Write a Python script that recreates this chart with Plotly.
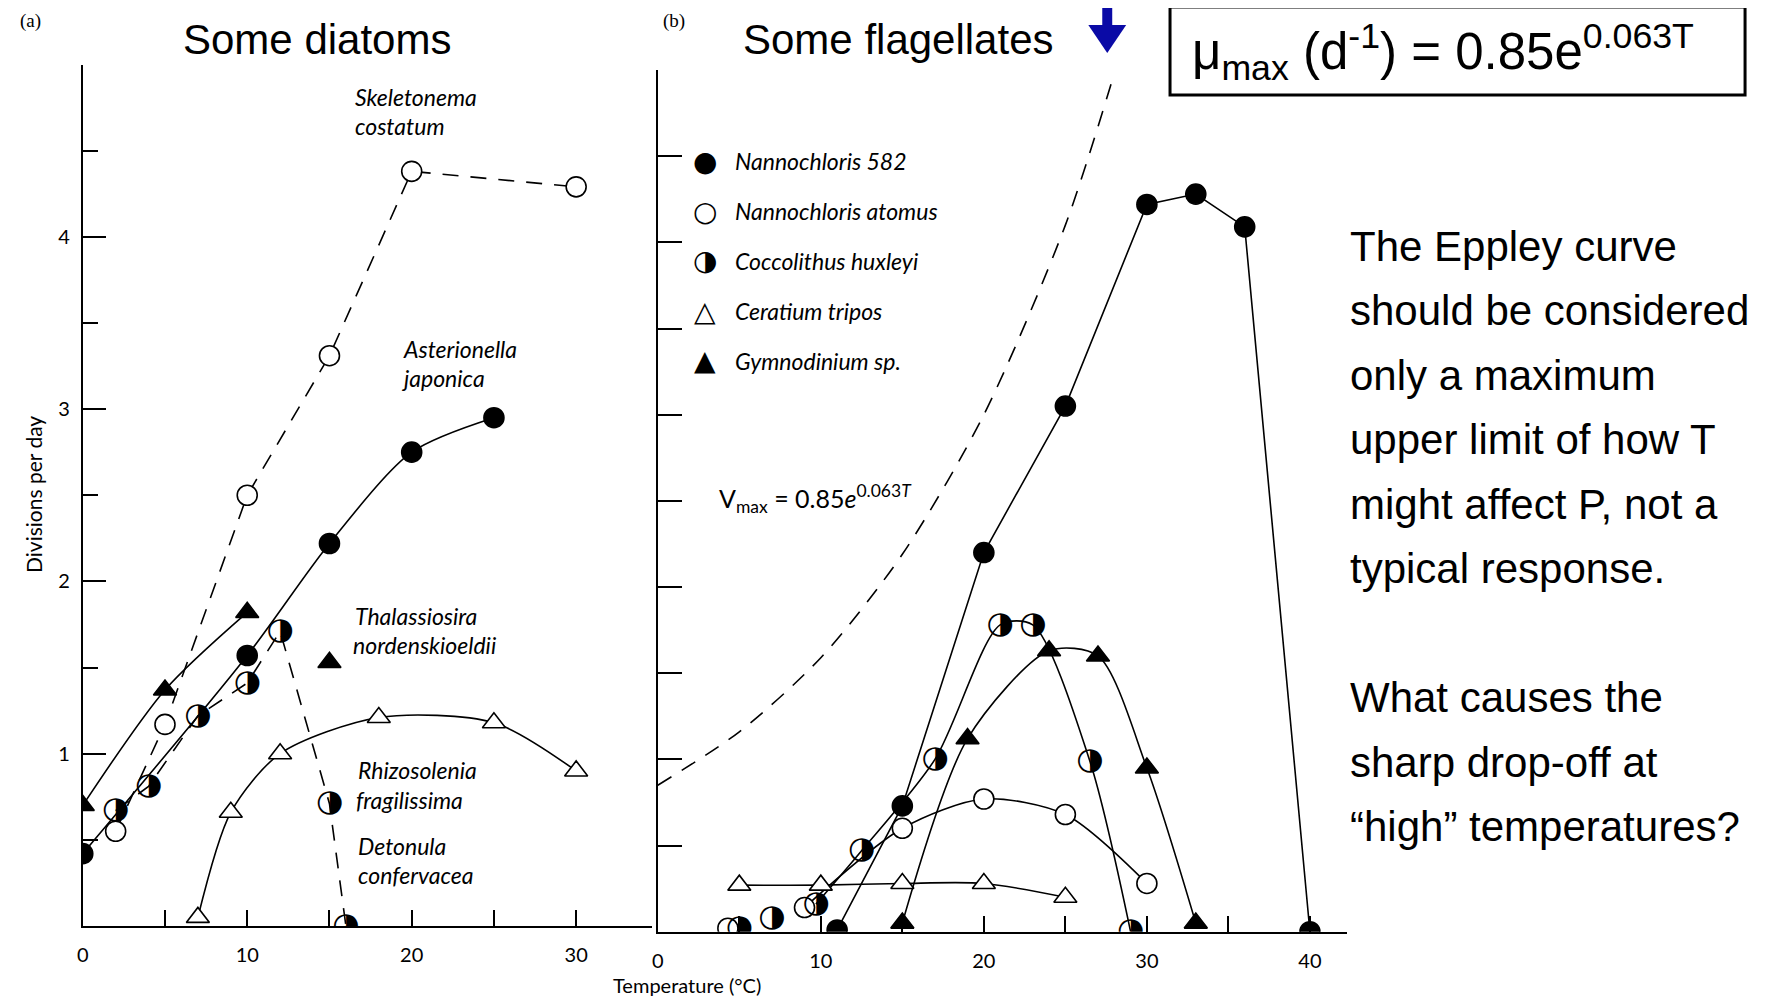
import plotly.graph_objects as go

W, H = 1769, 1006
OFF = 8                      # default page body margin
FW, FH = W - 2 * OFF, H - 2 * OFF
def px(x): return (x - OFF) / FW
def py(y): return 1 - (y - OFF) / FH

# ---------------- data: panel (a) diatoms ----------------
skel_T = [2, 5, 10, 15, 20, 30]
skel_v = [0.55, 1.17, 2.50, 3.31, 4.38, 4.29]
aster_T = [0, 10, 15, 20, 25]
aster_v = [0.42, 1.57, 2.22, 2.75, 2.95]
thal_T = [0, 5, 10, 15]
thal_v = [0.70, 1.37, 1.82, 1.53]
deton_T = [2, 4, 7, 10, 12, 15, 16]
deton_v = [0.67, 0.81, 1.22, 1.41, 1.71, 0.71, 0.0]
rhizo_T = [7, 9, 12, 18, 25, 30]
rhizo_v = [0.05, 0.66, 1.00, 1.21, 1.18, 0.90]

# ---------------- data: panel (b) flagellates ----------------
n582_T = [11, 15, 20, 25, 30, 33, 36, 40]
n582_v = [0.01, 0.73, 2.20, 3.05, 4.22, 4.28, 4.09, 0.0]
natom_T = [4.3, 9, 15, 20, 25, 30]
natom_v = [0.02, 0.14, 0.60, 0.77, 0.68, 0.28]
cocco_T = [5, 7, 9.7, 12.5, 17, 21, 23, 26.5, 29]
cocco_v = [0.02, 0.08, 0.16, 0.47, 1.00, 1.78, 1.78, 0.99, 0.0]
cerat_T = [5, 10, 15, 20, 25]
cerat_v = [0.27, 0.27, 0.28, 0.28, 0.20]
gymno_T = [15, 19, 24, 27, 30, 33]
gymno_v = [0.05, 1.12, 1.63, 1.60, 0.95, 0.05]
eppley_T = [0, 5, 10, 15, 20, 25, 28]
eppley_v = [0.85, 1.16, 1.59, 2.19, 3.00, 4.10, 4.98]

legend_names = ["Nannochloris 582", "Nannochloris atomus", "Coccolithus huxleyi",
                "Ceratium tripos", "Gymnodinium sp."]
legend_glyphs = ["●", "○", "◑", "△", "▲"]

right_lines = ["The Eppley curve", "should be considered", "only a maximum",
               "upper limit of how T", "might affect P, not a", "typical response.",
               "", "What causes the", "sharp drop-off at", "“high” temperatures?"]

BLK = "black"
LW = 1.6
MS = 20
fig = go.Figure()

def line(x, y, ax, dash="solid", shape="spline"):
    fig.add_trace(go.Scatter(x=x, y=y, xaxis=ax[0], yaxis=ax[1], mode="lines",
                             line=dict(color=BLK, width=LW, dash=dash, shape=shape, smoothing=0.8),
                             showlegend=False, hoverinfo="skip"))

def marks(x, y, ax, symbol, fill):
    fig.add_trace(go.Scatter(x=x, y=y, xaxis=ax[0], yaxis=ax[1], mode="markers",
                             marker=dict(symbol=symbol, size=MS, color=fill,
                                         line=dict(color=BLK, width=1.6)),
                             showlegend=False, hoverinfo="skip"))

def half(x, y, ax):
    fig.add_trace(go.Scatter(x=x, y=y, xaxis=ax[0], yaxis=ax[1], mode="text",
                             text=["◑"] * len(x), textposition="middle center",
                             textfont=dict(family="DejaVu Sans", size=31, color=BLK),
                             showlegend=False, hoverinfo="skip"))

A = ("x", "y")
B = ("x2", "y2")
DASH = "16px,12px"

# panel a
line(skel_T, skel_v, A, dash=DASH, shape="linear")
line(aster_T, aster_v, A)
line(thal_T[:3], thal_v[:3], A)
line(deton_T, deton_v, A, dash=DASH, shape="linear")
line(rhizo_T, rhizo_v, A)
marks(skel_T, skel_v, A, "circle", "white")
marks(aster_T, aster_v, A, "circle", BLK)
marks(thal_T, thal_v, A, "triangle-up", BLK)
marks(rhizo_T, rhizo_v, A, "triangle-up", "white")
half(deton_T, deton_v, A)

# panel b
line(eppley_T, eppley_v, B, dash=DASH)
line(n582_T, n582_v, B, shape="linear")
line(natom_T[1:], natom_v[1:], B)
line(cocco_T[2:], cocco_v[2:], B)
line(cerat_T, cerat_v, B)
line(gymno_T, gymno_v, B)
marks(cerat_T, cerat_v, B, "triangle-up", "white")
marks(natom_T, natom_v, B, "circle", "white")
half(cocco_T, cocco_v, B)
marks(gymno_T, gymno_v, B, "triangle-up", BLK)
marks(n582_T, n582_v, B, "circle", BLK)

TICKF = dict(family="Lato", size=20, color=BLK)
axis_common = dict(showline=True, linecolor=BLK, linewidth=1.6, showgrid=False,
                   zeroline=False, ticks="inside", tickcolor=BLK, tickwidth=1.6,
                   tickfont=TICKF, fixedrange=True)

fig.update_layout(
    width=FW, height=FH, margin=dict(l=0, r=0, t=0, b=0),
    paper_bgcolor="white", plot_bgcolor="white", showlegend=False,
    xaxis=dict(domain=[px(77), px(648)], range=[0, 34.6], anchor="y",
               tickvals=[0, 5, 10, 15, 20, 25, 30],
               ticktext=["0", "", "10", "", "20", "", "30"],
               ticklen=16, ticklabelstandoff=10, **axis_common),
    yaxis=dict(domain=[py(926), py(64.5)], range=[0, 5], anchor="x",
               tickvals=[1, 2, 3, 4], ticktext=["1", "2", "3", "4"],
               ticklen=23, ticklabelstandoff=7,
               minor=dict(tickvals=[0.5, 1.5, 2.5, 3.5, 4.5], ticks="inside",
                          ticklen=15, tickcolor=BLK, tickwidth=1.6),
               **axis_common),
    xaxis2=dict(domain=[px(654), px(1346)], range=[0, 42.3], anchor="y2",
                tickvals=[0, 5, 10, 15, 20, 25, 30, 35, 40],
                ticktext=["0", "", "10", "", "20", "", "30", "", "40"],
                ticklen=16, ticklabelstandoff=10, **axis_common),
    yaxis2=dict(domain=[py(931.7), py(70)], range=[0, 5], anchor="x2",
                tickvals=[0.5, 1, 1.5, 2, 2.5, 3, 3.5, 4, 4.5],
                showticklabels=False, ticklen=24, **axis_common),
)

ann = []
def text(x, y, t, size, family="Lato", xanchor="left", yanchor="middle", italic=False, color=BLK):
    ann.append(dict(xref="paper", yref="paper", x=px(x), y=py(y), text=t, showarrow=False,
                    xanchor=xanchor, yanchor=yanchor,
                    font=dict(family=family, size=size, color=color,
                              style="italic" if italic else "normal")))

ARIAL = "Arial, Liberation Sans"
text(25, 21, "(a)", 19, family="Liberation Serif", xanchor="center")
text(670, 21, "(b)", 19, family="Liberation Serif", xanchor="center")
text(312, 40, "Some diatoms", 42, family=ARIAL, xanchor="center")
text(896, 40, "Some flagellates", 42, family=ARIAL, xanchor="center")

SP = 23
text(348, 97, "Skeletonema", SP, italic=True)
text(348, 126, "costatum", SP, italic=True)
text(396, 349, "Asterionella", SP, italic=True)
text(394, 378, "japonica", SP, italic=True)
text(348, 616, "Thalassiosira", SP, italic=True)
text(346, 645, "nordenskioeldii", SP, italic=True)
text(351, 770, "Rhizosolenia", SP, italic=True)
text(349, 800, "fragilissima", SP, italic=True)
text(351, 846, "Detonula", SP, italic=True)
text(351, 875, "confervacea", SP, italic=True)

for i, (g, n) in enumerate(zip(legend_glyphs, legend_names)):
    yy = 161 + i * 50
    text(701, yy, g, 28, family="DejaVu Sans", xanchor="center")
    text(729, yy, n, SP, italic=True)

text(713, 498, "V<sub>max</sub> = 0.85<i>e</i><sup>0.063<i>T</i></sup>", 25)

ann.append(dict(xref="paper", yref="paper", x=px(27), y=py(494), text="Divisions per day",
                showarrow=False, textangle=-90, xanchor="center", yanchor="middle",
                font=dict(family="Lato", size=21, color=BLK)))
text(683, 985, "Temperature (°C)", 20, xanchor="center")

text(1188, 52, "μ<sub>max</sub> (d<sup>-1</sup>) = 0.85e<sup>0.063T</sup>", 51, family=ARIAL)

for i, s in enumerate(right_lines):
    if s:
        text(1347, 246 + i * 64.5, s, 42, family=ARIAL)

fig.update_layout(annotations=ann)

BLUE = "#0a0aa6"
fig.update_layout(shapes=[
    dict(type="rect", xref="paper", yref="paper", x0=px(1168), x1=px(1745), y0=py(95), y1=py(7),
         line=dict(color=BLK, width=3), fillcolor="rgba(0,0,0,0)"),
    dict(type="rect", xref="paper", yref="paper", x0=px(1100), x1=px(1110), y0=py(28), y1=py(8),
         line=dict(width=0), fillcolor=BLUE),
    dict(type="path", xref="paper", yref="paper",
         path=f"M {px(1086)} {py(25)} L {px(1124)} {py(25)} L {px(1105)} {py(53)} Z",
         line=dict(width=0), fillcolor=BLUE),
])

fig.write_html("out.html")
